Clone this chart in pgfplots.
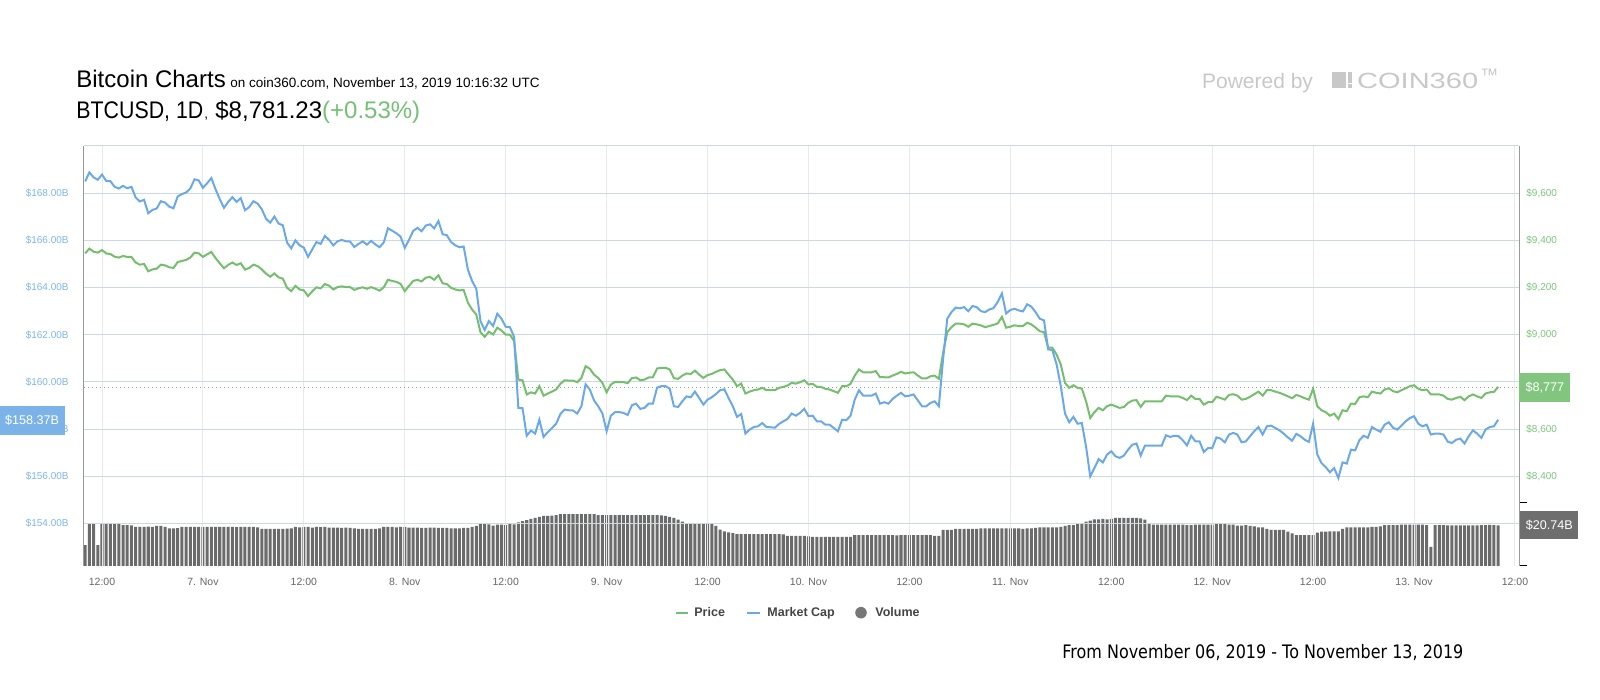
\documentclass[border=0pt]{standalone}
\usepackage{graphicx}
\usepackage{fontspec}
\setmainfont{Liberation Sans}
\newfontfamily\dejavucond[FakeStretch=0.86]{DejaVu Sans}
\usepackage{pgfplots}
\usepackage{pgfplotstable}
\pgfplotsset{compat=1.18}
\newcommand{\fs}[1]{\fontsize{#1}{#1}\selectfont}
\definecolor{capblue}{HTML}{6AA9E9}
\definecolor{pricegreen}{HTML}{74BF6B}
\definecolor{caplabel}{HTML}{7CB5EC}
\definecolor{pricelabel}{HTML}{7CC47A}
\definecolor{hgrid}{HTML}{CCD8E2}
\definecolor{vgrid}{HTML}{E6EAEE}
\definecolor{volgray}{HTML}{6B6B6B}
\definecolor{axisgray}{HTML}{999999}
\definecolor{capbox}{HTML}{7BB3E9}
\definecolor{pricebox}{HTML}{82C57F}
\definecolor{volbox}{HTML}{6E6E6E}
\definecolor{ticklab}{HTML}{666666}
\definecolor{legtext}{HTML}{444444}
\definecolor{logogray}{HTML}{C8C8C8}
\definecolor{titlegreen}{HTML}{73C174}
\definecolor{dotgray}{HTML}{8899AA}
\definecolor{legvol}{HTML}{777777}

\pgfplotstableread{
h cap price
10.0 168.50 9345
10.5 168.88 9365
11.0 168.67 9352
11.5 168.57 9348
12.0 168.79 9359
12.5 168.52 9345
13.0 168.51 9342
13.5 168.27 9331
14.0 168.20 9327
14.5 168.31 9334
15.0 168.21 9330
15.5 168.27 9330
16.0 167.82 9306
16.5 167.65 9297
17.0 167.72 9300
17.5 167.15 9269
18.0 167.29 9277
18.5 167.35 9280
19.0 167.66 9297
19.5 167.60 9294
20.0 167.43 9286
20.5 167.36 9283
21.0 167.86 9308
21.5 167.96 9313
22.0 168.03 9317
22.5 168.20 9327
23.0 168.59 9348
23.5 168.54 9345
24.0 168.23 9330
24.5 168.42 9341
25.0 168.64 9351
25.5 168.17 9325
26.0 167.75 9303
26.5 167.38 9282
27.0 167.63 9296
27.5 167.83 9306
28.0 167.63 9296
28.5 167.79 9303
29.0 167.28 9276
29.5 167.41 9283
30.0 167.66 9297
30.5 167.56 9291
31.0 167.32 9277
31.5 166.92 9259
32.0 166.75 9246
32.5 167.01 9260
33.0 166.71 9243
33.5 166.64 9238
34.0 165.91 9199
34.5 165.66 9185
35.0 166.00 9207
35.5 165.79 9192
36.0 165.69 9188
36.5 165.30 9164
37.0 165.62 9184
37.5 165.93 9201
38.0 165.85 9197
38.5 166.19 9215
39.0 166.02 9208
39.5 165.79 9192
40.0 165.96 9202
40.5 166.02 9205
41.0 165.96 9202
41.5 165.95 9202
42.0 165.72 9190
42.5 165.85 9197
43.0 165.96 9201
43.5 165.82 9195
44.0 165.98 9202
44.5 165.83 9195
45.0 165.71 9187
45.5 165.91 9201
46.0 166.51 9233
46.5 166.41 9228
47.0 166.30 9224
47.5 166.16 9216
48.0 165.68 9185
48.5 166.02 9207
49.0 166.40 9228
49.5 166.53 9233
50.0 166.39 9226
50.5 166.63 9242
51.0 166.68 9245
51.5 166.51 9233
52.0 166.82 9252
52.5 166.26 9218
53.0 166.22 9215
53.5 165.93 9199
54.0 165.79 9192
54.5 165.71 9188
55.0 165.74 9190
55.5 164.77 9136
56.0 164.28 9107
56.5 163.95 9086
57.0 162.58 9011
57.5 162.20 8991
58.0 162.58 9013
58.5 162.37 9001
59.0 162.89 9030
59.5 162.68 9018
60.0 162.34 9001
60.5 162.32 9000
61.0 161.91 8973
61.5 158.90 8810
62.0 158.89 8807
62.5 157.72 8747
63.0 157.94 8756
63.5 157.81 8751
64.0 158.40 8782
64.5 157.67 8742
65.0 157.87 8751
65.5 158.05 8759
66.0 158.23 8768
66.5 158.64 8792
67.0 158.83 8807
67.5 158.80 8806
68.0 158.79 8806
68.5 158.66 8799
69.0 158.97 8817
69.5 159.90 8867
70.0 159.68 8856
70.5 159.22 8831
71.0 158.97 8817
71.5 158.66 8796
72.0 157.91 8756
72.5 158.57 8789
73.0 158.72 8800
73.5 158.72 8800
74.0 158.69 8799
74.5 158.60 8795
75.0 159.01 8816
75.5 159.08 8819
76.0 158.86 8807
76.5 158.90 8810
77.0 159.08 8819
77.5 159.08 8820
78.0 159.76 8857
78.5 159.82 8860
79.0 159.82 8860
79.5 159.72 8853
80.0 158.97 8816
80.5 158.94 8813
81.0 159.18 8827
81.5 159.39 8836
82.0 159.35 8834
82.5 159.59 8848
83.0 159.32 8831
83.5 159.04 8817
84.0 159.25 8829
84.5 159.35 8834
85.0 159.49 8843
85.5 159.65 8850
86.0 159.69 8853
86.5 159.32 8831
87.0 158.97 8810
87.5 158.52 8782
88.0 158.64 8793
88.5 157.81 8751
89.0 157.98 8759
89.5 158.09 8765
90.0 158.12 8768
90.5 158.26 8775
91.0 158.09 8765
91.5 158.08 8765
92.0 158.06 8765
92.5 158.22 8775
93.0 158.33 8779
93.5 158.43 8785
94.0 158.66 8796
94.5 158.57 8793
95.0 158.69 8799
95.5 158.86 8807
96.0 158.55 8789
96.5 158.57 8792
97.0 158.33 8779
97.5 158.33 8779
98.0 158.19 8771
98.5 158.19 8768
99.0 158.05 8761
99.5 157.91 8754
100.0 158.40 8782
100.5 158.38 8782
101.0 158.57 8792
101.5 159.25 8827
102.0 159.65 8853
102.5 159.42 8841
103.0 159.42 8841
103.5 159.42 8841
104.0 159.51 8846
104.5 159.08 8820
105.0 159.14 8820
105.5 159.08 8819
106.0 159.28 8827
106.5 159.42 8834
107.0 159.54 8843
107.5 159.39 8836
108.0 159.42 8839
108.5 159.47 8841
109.0 159.22 8827
109.5 158.97 8815
110.0 158.97 8815
110.5 159.11 8824
111.0 159.18 8827
111.5 158.97 8813
112.0 160.95 8923
112.5 162.68 9011
113.0 162.96 9032
113.5 163.15 9047
114.0 163.12 9047
114.5 163.17 9044
115.0 163.00 9034
115.5 163.22 9047
116.0 163.17 9044
116.5 163.00 9040
117.0 162.96 9032
117.5 163.07 9037
118.0 163.13 9042
118.5 163.39 9048
119.0 163.75 9076
119.5 162.90 9030
120.0 163.05 9034
120.5 163.10 9040
121.0 163.03 9037
121.5 162.99 9037
122.0 163.29 9051
122.5 163.19 9044
123.0 162.96 9030
123.5 162.68 9015
124.0 162.61 9011
124.5 161.38 8945
125.0 161.35 8945
125.5 160.74 8916
126.0 159.82 8874
126.5 158.66 8796
127.0 158.29 8775
127.5 158.52 8786
128.0 158.23 8775
128.5 158.26 8772
129.0 157.27 8718
129.5 156.00 8647
130.0 156.35 8672
130.5 156.73 8690
131.0 156.59 8680
131.5 156.92 8697
132.0 157.06 8704
132.5 156.85 8697
133.0 156.78 8690
133.5 156.88 8694
134.0 157.13 8711
134.5 157.34 8721
135.0 157.39 8723
135.5 156.88 8694
136.0 157.30 8718
136.5 157.30 8718
137.0 157.30 8718
137.5 157.30 8718
138.0 157.30 8718
138.5 157.74 8742
139.0 157.67 8739
139.5 157.72 8739
140.0 157.70 8739
140.5 157.53 8732
141.0 157.31 8723
141.5 157.72 8742
142.0 157.48 8728
142.5 157.48 8728
143.0 157.03 8704
143.5 157.20 8714
144.0 157.19 8714
144.5 157.65 8737
145.0 157.60 8732
145.5 157.44 8725
146.0 157.77 8745
146.5 157.84 8748
147.0 157.77 8742
147.5 157.44 8725
148.0 157.48 8728
148.5 157.70 8737
149.0 157.91 8748
149.5 158.09 8759
150.0 157.77 8742
150.5 158.12 8765
151.0 158.15 8765
151.5 158.05 8759
152.0 157.95 8754
152.5 157.81 8747
153.0 157.65 8739
153.5 157.51 8731
154.0 157.80 8745
154.5 157.70 8739
155.0 157.55 8731
155.5 157.46 8725
156.0 158.23 8771
156.5 156.92 8697
157.0 156.56 8680
157.5 156.39 8672
158.0 156.17 8657
158.5 156.35 8666
159.0 155.93 8643
159.5 156.59 8680
160.0 156.54 8676
160.5 157.13 8708
161.0 157.10 8707
161.5 157.53 8735
162.0 157.72 8739
162.5 157.63 8735
163.0 158.09 8759
163.5 157.98 8754
164.0 157.89 8751
164.5 158.19 8768
165.0 158.29 8773
165.5 158.06 8761
166.0 157.98 8756
166.5 158.15 8765
167.0 158.33 8773
167.5 158.47 8782
168.0 158.55 8786
168.5 158.23 8771
169.0 158.12 8765
169.5 158.19 8768
170.0 157.77 8747
170.5 157.81 8747
171.0 157.81 8747
171.5 157.77 8742
172.0 157.47 8728
172.5 157.41 8725
173.0 157.55 8732
173.5 157.60 8737
174.0 157.39 8723
174.5 157.70 8739
175.0 157.95 8747
175.5 157.81 8739
176.0 157.63 8732
176.5 157.98 8751
177.0 158.09 8756
177.5 158.12 8758
178.0 158.40 8779
}\mktdata

\pgfplotstableread{
h vol
10.0 10.7
10.5 21.8
11.0 21.8
11.5 10.7
12.0 21.8
12.5 21.7
13.0 21.8
13.5 21.6
14.0 21.6
14.5 20.9
15.0 20.9
15.5 20.7
16.0 19.9
16.5 19.9
17.0 19.9
17.5 20.1
18.0 19.9
18.5 20.4
19.0 20.4
19.5 19.9
20.0 19.2
20.5 19.2
21.0 19.3
21.5 19.9
22.0 19.9
22.5 19.9
23.0 19.9
23.5 19.9
24.0 20.0
24.5 19.9
25.0 19.9
25.5 19.9
26.0 19.9
26.5 19.9
27.0 19.9
27.5 19.9
28.0 19.8
28.5 19.9
29.0 19.9
29.5 19.9
30.0 19.9
30.5 19.7
31.0 18.9
31.5 18.9
32.0 18.9
32.5 18.9
33.0 18.9
33.5 18.9
34.0 19.1
34.5 19.2
35.0 19.9
35.5 19.7
36.0 19.9
36.5 19.9
37.0 19.6
37.5 19.9
38.0 19.8
38.5 19.9
39.0 19.6
39.5 19.6
40.0 19.6
40.5 19.4
41.0 19.6
41.5 19.4
42.0 19.2
42.5 18.9
43.0 18.9
43.5 18.9
44.0 18.9
44.5 18.9
45.0 19.2
45.5 19.9
46.0 19.9
46.5 19.9
47.0 19.7
47.5 19.9
48.0 19.9
48.5 19.6
49.0 19.6
49.5 19.6
50.0 19.4
50.5 19.4
51.0 19.6
51.5 19.6
52.0 19.4
52.5 19.4
53.0 19.4
53.5 19.2
54.0 19.2
54.5 19.2
55.0 19.4
55.5 19.4
56.0 20.0
56.5 20.4
57.0 21.4
57.5 21.6
58.0 21.2
58.5 20.6
59.0 21.1
59.5 21.1
60.0 20.9
60.5 21.4
61.0 21.2
61.5 22.3
62.0 22.9
62.5 23.4
63.0 24.0
63.5 24.5
64.0 25.0
64.5 25.5
65.0 25.5
65.5 25.7
66.0 26.0
66.5 26.5
67.0 26.5
67.5 26.5
68.0 26.5
68.5 26.5
69.0 26.5
69.5 26.5
70.0 26.4
70.5 26.4
71.0 26.0
71.5 26.0
72.0 26.0
72.5 26.0
73.0 26.0
73.5 26.0
74.0 26.0
74.5 26.0
75.0 26.0
75.5 26.0
76.0 26.0
76.5 26.0
77.0 26.0
77.5 26.0
78.0 26.0
78.5 25.8
79.0 25.6
79.5 25.0
80.0 24.5
80.5 23.6
81.0 22.6
81.5 21.6
82.0 21.4
82.5 21.4
83.0 21.4
83.5 21.4
84.0 21.4
84.5 21.4
85.0 20.4
85.5 18.5
86.0 17.7
86.5 17.2
87.0 16.8
87.5 16.3
88.0 16.3
88.5 16.3
89.0 16.3
89.5 16.3
90.0 16.3
90.5 16.3
91.0 16.3
91.5 16.3
92.0 16.3
92.5 16.3
93.0 16.1
93.5 15.3
94.0 15.3
94.5 15.3
95.0 15.3
95.5 15.3
96.0 15.1
96.5 14.8
97.0 14.8
97.5 14.8
98.0 14.8
98.5 14.8
99.0 14.8
99.5 14.8
100.0 14.8
100.5 14.8
101.0 14.8
101.5 15.8
102.0 15.8
102.5 15.8
103.0 15.8
103.5 15.8
104.0 15.8
104.5 15.8
105.0 15.8
105.5 15.8
106.0 15.8
106.5 15.6
107.0 15.8
107.5 15.8
108.0 15.8
108.5 15.8
109.0 15.8
109.5 15.8
110.0 15.8
110.5 15.8
111.0 15.3
111.5 15.3
112.0 18.4
112.5 18.4
113.0 18.4
113.5 18.9
114.0 18.9
114.5 18.9
115.0 18.9
115.5 18.9
116.0 18.9
116.5 19.2
117.0 19.2
117.5 19.2
118.0 19.2
118.5 19.2
119.0 19.2
119.5 19.2
120.0 19.2
120.5 19.2
121.0 19.2
121.5 18.9
122.0 19.2
122.5 19.2
123.0 19.4
123.5 19.7
124.0 19.7
124.5 19.7
125.0 19.7
125.5 19.7
126.0 19.9
126.5 20.4
127.0 20.9
127.5 20.9
128.0 21.4
128.5 21.9
129.0 22.6
129.5 23.1
130.0 23.8
130.5 23.8
131.0 24.0
131.5 23.8
132.0 24.0
132.5 24.5
133.0 24.5
133.5 24.5
134.0 24.5
134.5 24.5
135.0 24.5
135.5 24.3
136.0 23.6
136.5 21.4
137.0 21.1
137.5 21.1
138.0 21.1
138.5 21.1
139.0 21.1
139.5 21.1
140.0 21.1
140.5 21.1
141.0 20.9
141.5 20.9
142.0 21.1
142.5 21.1
143.0 21.1
143.5 21.1
144.0 21.1
144.5 21.4
145.0 21.4
145.5 21.4
146.0 21.1
146.5 21.1
147.0 20.6
147.5 20.6
148.0 20.9
148.5 20.4
149.0 20.2
149.5 19.7
150.0 19.7
150.5 18.9
151.0 18.4
151.5 18.4
152.0 18.4
152.5 18.4
153.0 17.5
153.5 16.6
154.0 15.8
154.5 15.8
155.0 15.8
155.5 15.8
156.0 15.8
156.5 17.0
157.0 17.5
157.5 17.5
158.0 17.7
158.5 17.7
159.0 17.7
159.5 18.9
160.0 19.7
160.5 19.7
161.0 19.7
161.5 19.7
162.0 19.7
162.5 19.7
163.0 19.9
163.5 19.9
164.0 20.2
164.5 20.9
165.0 20.9
165.5 20.9
166.0 20.9
166.5 21.1
167.0 21.1
167.5 21.1
168.0 21.1
168.5 21.1
169.0 21.1
169.5 20.9
170.0 9.8
170.5 20.9
171.0 20.9
171.5 20.9
172.0 20.7
172.5 20.7
173.0 20.7
173.5 20.7
174.0 20.7
174.5 20.7
175.0 20.7
175.5 20.7
176.0 20.9
176.5 20.9
177.0 21.0
177.5 20.9
178.0 20.74
}\voldata

\pgfplotsset{
  base/.style={scale only axis, width=717.5pt, height=210pt,
    at={(42pt,67pt)}, anchor=south west,
    xmin=9.86, xmax=180.48,
    axis line style={draw=none}, major tick length=0pt, clip=false}
}

\begin{document}
\begin{tikzpicture}
\useasboundingbox (0,0) rectangle (800pt,350pt);

% ---- titles
\node[anchor=base west,inner sep=0pt] at (38pt,306.15pt) {\fs{12}Bitcoin Charts};
\node[anchor=base west,inner sep=0pt] at (115pt,306.15pt) {\fs{6.75}on coin360.com, November 13, 2019 10:16:32 UTC};
\node[anchor=base west,inner sep=0pt] at (38pt,290.85pt) {\fs{12}\scalebox{0.89}[1]{BTCUSD, 1D}};
\node[anchor=base west,inner sep=0pt] at (102pt,290.85pt) {\fs{6.75},};
\node[anchor=base west,inner sep=0pt] at (107.5pt,290.85pt) {\fs{12}\$8,781.23\textcolor{titlegreen}{(+0.53\%)}};

% ---- powered by
\node[anchor=base west,inner sep=0pt,text=logogray] at (600.85pt,305.85pt) {\fs{10.5}Powered by};
\fill[logogray] (666.15pt,305.85pt) rectangle (673pt,313.85pt);
\fill[logogray] (674.15pt,308.65pt) rectangle (676.15pt,313.85pt);
\fill[logogray] (674.15pt,305.85pt) rectangle (676.15pt,307.85pt);
\node[anchor=base west,inner sep=0pt,text=logogray] at (678.35pt,305.85pt) {\fs{11}\scalebox{1.32}[1]{COIN360}};
\node[anchor=base west,inner sep=0pt,text=logogray] at (740pt,309pt) {\fs{9}™};

% ---- volume
\begin{axis}[base, ymin=0, ymax=214.2, xtick=\empty, ytick=\empty]
\addplot[ybar, bar width=0.36, fill=volgray, draw=none] table[x=h,y=vol]{\voldata};
\draw[black, line width=0.5pt] (axis cs:180.48,0) -- ([xshift=4pt]axis cs:180.48,0);
\draw[black, line width=0.5pt] (axis cs:180.48,32.6) -- ([xshift=4pt]axis cs:180.48,32.6);
\node[fill=volbox, text=white, anchor=west, inner sep=0pt, minimum width=29pt, minimum height=14pt, xshift=0.5pt] at (axis cs:180.48,20.74) {\fs{6.3}\$20.74B};
\end{axis}

% ---- price (right axis, grids, x labels)
\begin{axis}[base, ymin=8020, ymax=9800,
  xtick={12,24,...,180},
  xticklabels={12:00,7. Nov,12:00,8. Nov,12:00,9. Nov,12:00,10. Nov,12:00,11. Nov,12:00,12. Nov,12:00,13. Nov,12:00},
  xmajorgrids, ymajorgrids,
  x grid style={vgrid, line width=0.5pt},
  y grid style={hgrid, line width=0.5pt},
  ytick={8200,8400,...,9800},
  yticklabels={{},{\$8,400},{\$8,600},{},{\$9,000},{\$9,200},{\$9,400},{\$9,600},{}},
  yticklabel pos=right,
  yticklabel style={anchor=west, xshift=3.5pt, inner sep=0pt, text=pricelabel, font=\fs{5}},
  xticklabel style={anchor=base, yshift=-10pt, inner sep=0pt, text=ticklab, font=\fs{5.25}}]
\addplot[dotgray, line width=0.5pt, dash pattern=on 0.5pt off 1.5pt] coordinates {(9.86,8777) (180.48,8777)};
\addplot[pricegreen, line width=1pt] table[x=h,y=price]{\mktdata};
\draw[axisgray, line width=0.5pt] (rel axis cs:1,0) -- (rel axis cs:1,1);
\node[fill=pricebox, text=white, anchor=west, inner sep=0pt, minimum width=25.5pt, minimum height=14.3pt] at (axis cs:180.48,8777) {\fs{6.3}\$8,777};
\end{axis}

% ---- market cap (left axis)
\begin{axis}[base, ymin=152.2, ymax=170, xtick=\empty,
  ytick={154,156,...,168},
  yticklabels={\$154.00B,\$156.00B,\$158.00B,\$160.00B,\$162.00B,\$164.00B,\$166.00B,\$168.00B},
  yticklabel style={anchor=east, xshift=-7.5pt, inner sep=0pt, text=caplabel, font=\fs{5}}]
\addplot[capblue, line width=1pt] table[x=h,y=cap]{\mktdata};
\draw[axisgray, line width=0.5pt] (rel axis cs:0,0) -- (rel axis cs:0,1);
\node[fill=capbox, text=white, anchor=east, inner sep=0pt, minimum width=32.5pt, minimum height=14.5pt, xshift=-9.5pt] at (axis cs:9.86,158.37) {\fs{6.3}\$158.37B};
\end{axis}

% ---- legend
\draw[pricegreen, line width=1pt] (338pt,43.65pt) -- (344pt,43.65pt);
\node[anchor=base west, inner sep=0pt, text=legtext] at (347pt,41.5pt) {\fs{6.25}\bfseries Price};
\draw[capblue, line width=1pt] (373.5pt,43.65pt) -- (380pt,43.65pt);
\node[anchor=base west, inner sep=0pt, text=legtext] at (383.5pt,41.5pt) {\fs{6.25}\bfseries Market Cap};
\fill[legvol] (430.5pt,43.65pt) circle (2.9pt);
\node[anchor=base west, inner sep=0pt, text=legtext] at (437.5pt,41.5pt) {\fs{6.25}\bfseries Volume};

% ---- footer
\node[anchor=base west, inner sep=0pt] at (531pt,20.85pt) {\resizebox{200.5pt}{!}{\dejavucond\fs{8}From November 06, 2019 - To November 13, 2019}};
\end{tikzpicture}
\end{document}
